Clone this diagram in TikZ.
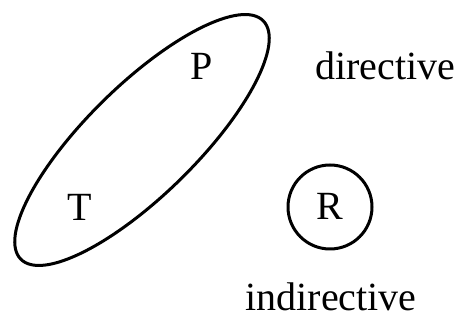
\documentclass[tikz,border=0pt]{standalone}
\usepackage{fontspec}
\setmainfont{Liberation Serif}
\usetikzlibrary{shapes.geometric}
\tikzset{
  lbl/.style={font=\fontsize{40}{48}\selectfont, inner sep=0pt, anchor=base},
  outline/.style={draw=black, line width=3pt}
}
\begin{document}
\begin{tikzpicture}[x=1pt,y=1pt]
\useasboundingbox (0,0) rectangle (460,320);
\node[outline, ellipse, minimum width=340pt, minimum height=110pt, inner sep=0pt, rotate=44.5] (grp) at (142,180) {};
\node[lbl] (p) at (202,240) {P};
\node[lbl] (t) at (80,99) {T};
\node[outline, circle, minimum size=84pt, inner sep=0pt] (rc) at (330,113) {};
\node[lbl] (r) at (330,100) {R};
\node[lbl] (dir) at (385,240) {directive};
\node[lbl] (ind) at (331,9) {indirective};
\end{tikzpicture}
\end{document}
